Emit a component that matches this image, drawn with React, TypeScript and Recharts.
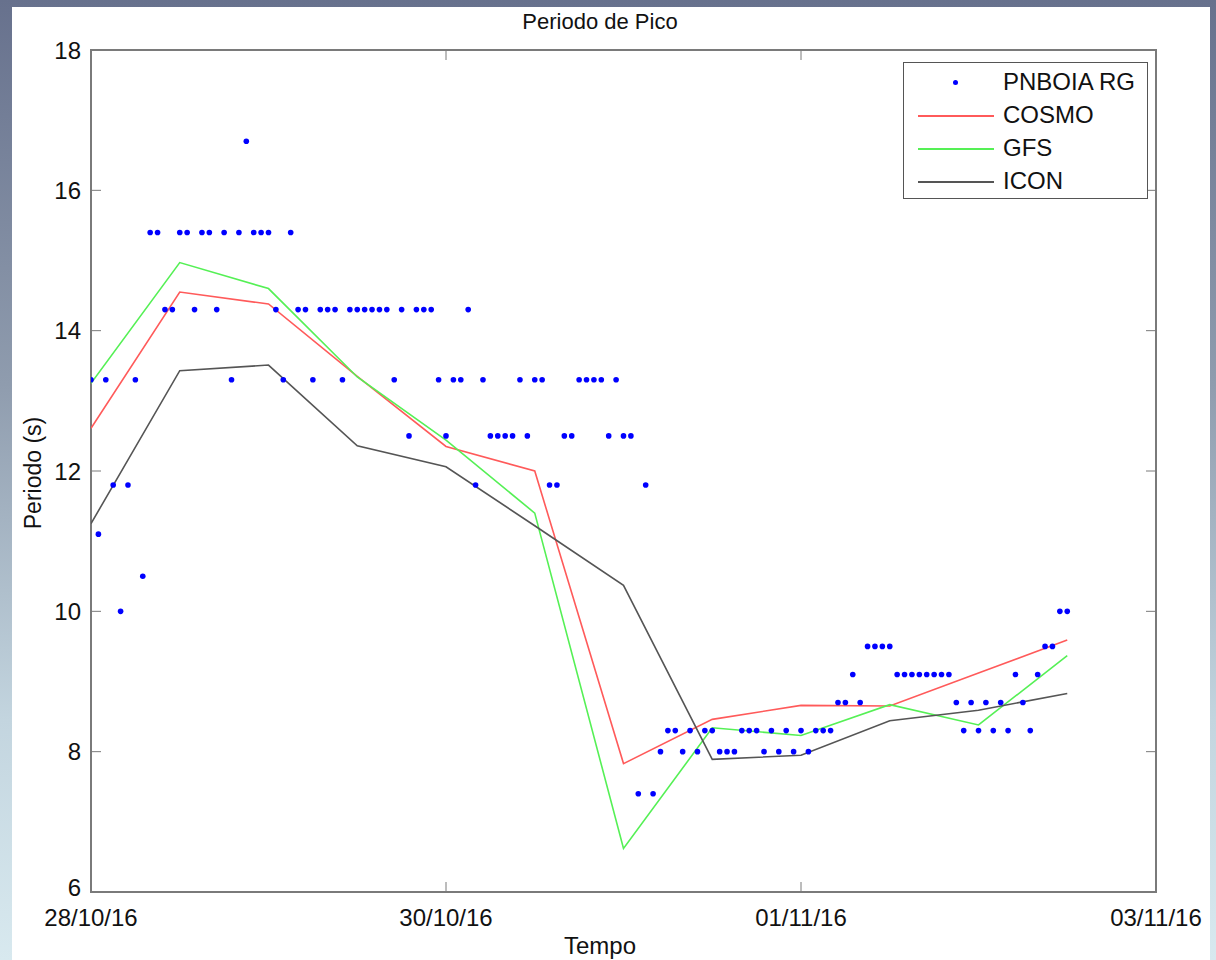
import React from "react";
import {
  ComposedChart,
  Line,
  Scatter,
  XAxis,
  YAxis,
  ReferenceArea,
} from "recharts";

// hourly buoy peak period, starting 28/10/16 00h
const buoyPeriod = [
  13.3, 11.1, 13.3, 11.8, 10.0, 11.8, 13.3, 10.5, 15.4, 15.4, 14.3, 14.3,
  15.4, 15.4, 14.3, 15.4, 15.4, 14.3, 15.4, 13.3, 15.4, 16.7, 15.4, 15.4,
  15.4, 14.3, 13.3, 15.4, 14.3, 14.3, 13.3, 14.3, 14.3, 14.3, 13.3, 14.3,
  14.3, 14.3, 14.3, 14.3, 14.3, 13.3, 14.3, 12.5, 14.3, 14.3, 14.3, 13.3,
  12.5, 13.3, 13.3, 14.3, 11.8, 13.3, 12.5, 12.5, 12.5, 12.5, 13.3, 12.5,
  13.3, 13.3, 11.8, 11.8, 12.5, 12.5, 13.3, 13.3, 13.3, 13.3, 12.5, 13.3,
  12.5, 12.5, 7.4, 11.8, 7.4, 8.0, 8.3, 8.3, 8.0, 8.3, 8.0, 8.3,
  8.3, 8.0, 8.0, 8.0, 8.3, 8.3, 8.3, 8.0, 8.3, 8.0, 8.3, 8.0,
  8.3, 8.0, 8.3, 8.3, 8.3, 8.7, 8.7, 9.1, 8.7, 9.5, 9.5, 9.5,
  9.5, 9.1, 9.1, 9.1, 9.1, 9.1, 9.1, 9.1, 9.1, 8.7, 8.3, 8.7,
  8.3, 8.7, 8.3, 8.7, 8.3, 9.1, 8.7, 8.3, 9.1, 9.5, 9.5, 10.0,
  10.0,
];

// model output every 12 h
const modelHours = [0, 12, 24, 36, 48, 60, 72, 84, 96, 108, 120, 132];
const cosmo = [12.61, 14.55, 14.38, 13.35, 12.35, 12.0, 7.83, 8.46, 8.66, 8.65, 9.12, 9.59];
const gfs = [13.25, 14.97, 14.6, 13.34, 12.44, 11.4, 6.62, 8.34, 8.23, 8.67, 8.38, 9.37];
const icon = [11.25, 13.43, 13.51, 12.36, 12.06, 11.22, 10.37, 7.89, 7.95, 8.44, 8.59, 8.83];

const xTicks = [0, 48, 96, 144];
const xTickLabels = ["28/10/16", "30/10/16", "01/11/16", "03/11/16"];
const yTicks = [6, 8, 10, 12, 14, 16, 18];

const seriesNames = ["PNBOIA RG", "COSMO", "GFS", "ICON"];
const colors = { buoy: "#0000ff", cosmo: "#ff5a5a", gfs: "#55f055", icon: "#555555" };

const buoyData = buoyPeriod.map((v, i) => ({ h: i, v }));
const toSeries = (vals: number[]) => vals.map((v, i) => ({ h: modelHours[i], v }));

const FONT = '"Liberation Sans", Arial, Helvetica, sans-serif';
const W = 1216;
const H = 960;
const PLOT_L = 91;
const PLOT_R = 1156;
const PLOT_T = 50;
const PLOT_B = 892;
const TICK = 10;
const AXIS_COLOR = "#7a7a7a";

const YTick = (props: any) => {
  const { y, payload } = props;
  // lowest label sits a little higher so it clears the date labels
  const ty = payload.value === yTicks[0] ? y - 5 : y;
  return (
    <g>
      <line x1={PLOT_L} x2={PLOT_L + TICK} y1={y} y2={y} stroke={AXIS_COLOR} strokeWidth={1} />
      <line x1={PLOT_R - TICK} x2={PLOT_R} y1={y} y2={y} stroke={AXIS_COLOR} strokeWidth={1} />
      <text x={81} y={ty} textAnchor="end" dominantBaseline="central" fontSize={24} fill="#111" fontFamily={FONT}>
        {payload.value}
      </text>
    </g>
  );
};

const XTick = (props: any) => {
  const { x, payload } = props;
  const idx = xTicks.indexOf(payload.value);
  return (
    <g>
      <line x1={x} x2={x} y1={PLOT_B - TICK} y2={PLOT_B} stroke={AXIS_COLOR} strokeWidth={1} />
      <line x1={x} x2={x} y1={PLOT_T} y2={PLOT_T + TICK} stroke={AXIS_COLOR} strokeWidth={1} />
      <text x={x} y={917} textAnchor="middle" dominantBaseline="central" fontSize={24} fill="#111" fontFamily={FONT}>
        {xTickLabels[idx]}
      </text>
    </g>
  );
};

const Dot = (props: any) => <circle cx={props.cx} cy={props.cy} r={2.8} fill={colors.buoy} />;

const LegendBox = () => {
  const lineColors = [colors.cosmo, colors.gfs, colors.icon];
  return (
    <div
      style={{
        position: "absolute",
        left: 903,
        top: 62,
        width: 245,
        height: 137,
        boxSizing: "border-box",
        border: "1.5px solid #555",
        background: "#fff",
        paddingTop: 3,
        fontFamily: FONT,
        fontSize: 24,
        color: "#111",
      }}
    >
      {seriesNames.map((name, i) => (
        <div key={name} style={{ position: "relative", height: 33 }}>
          {i === 0 ? (
            <div
              style={{
                position: "absolute",
                left: 49,
                top: 14,
                width: 5,
                height: 5,
                borderRadius: "50%",
                background: colors.buoy,
              }}
            />
          ) : (
            <div
              style={{
                position: "absolute",
                left: 14,
                top: 16,
                width: 76,
                height: 1.5,
                background: lineColors[i - 1],
              }}
            />
          )}
          <div style={{ position: "absolute", left: 99, top: 2, lineHeight: "28px" }}>{name}</div>
        </div>
      ))}
    </div>
  );
};

export default function App() {
  return (
    <div
      style={{
        position: "absolute",
        left: 0,
        top: 0,
        width: W,
        height: H,
        overflow: "hidden",
        background: "linear-gradient(to bottom, #67718d 0%, #8f9cae 40%, #c3d5df 75%, #d8e9ef 100%)",
      }}
    >
      <div style={{ position: "absolute", left: 12, top: 7, width: 1198, height: H - 7, background: "#fff" }} />
      <div
        style={{
          position: "absolute",
          left: 0,
          top: 10,
          width: W - 16,
          textAlign: "center",
          fontFamily: FONT,
          fontSize: 22,
          color: "#111",
          lineHeight: "24px",
        }}
      >
        Periodo de Pico
      </div>
      <div
        style={{
          position: "absolute",
          left: 0,
          top: 933,
          width: W - 16,
          textAlign: "center",
          fontFamily: FONT,
          fontSize: 24,
          color: "#111",
          lineHeight: "26px",
        }}
      >
        Tempo
      </div>
      <div
        style={{
          position: "absolute",
          left: 33,
          top: 473,
          transform: "translate(-50%, -50%) rotate(-90deg)",
          whiteSpace: "nowrap",
          fontFamily: FONT,
          fontSize: 23,
          color: "#111",
        }}
      >
        Periodo (s)
      </div>
      <div style={{ position: "absolute", left: 0, top: 0 }}>
        <ComposedChart
          width={W}
          height={H}
          margin={{ top: PLOT_T, right: W - PLOT_R, bottom: H - PLOT_B - 30, left: PLOT_L - 60 }}
        >
          <XAxis
            dataKey="h"
            type="number"
            domain={[0, 144]}
            ticks={xTicks}
            interval={0}
            height={30}
            axisLine={false}
            tickLine={false}
            tick={<XTick />}
            allowDataOverflow
          />
          <YAxis
            dataKey="v"
            type="number"
            domain={[6, 18]}
            ticks={yTicks}
            interval={0}
            width={60}
            axisLine={false}
            tickLine={false}
            tick={<YTick />}
            allowDataOverflow
          />
          <ReferenceArea
            x1={0}
            x2={144}
            y1={6}
            y2={18}
            fill="none"
            stroke={AXIS_COLOR}
            strokeWidth={2}
            ifOverflow="visible"
          />
          <Line
            data={toSeries(cosmo)}
            dataKey="v"
            stroke={colors.cosmo}
            strokeWidth={1.6}
            dot={false}
            activeDot={false}
            isAnimationActive={false}
            name="COSMO"
          />
          <Line
            data={toSeries(gfs)}
            dataKey="v"
            stroke={colors.gfs}
            strokeWidth={1.6}
            dot={false}
            activeDot={false}
            isAnimationActive={false}
            name="GFS"
          />
          <Line
            data={toSeries(icon)}
            dataKey="v"
            stroke={colors.icon}
            strokeWidth={1.6}
            dot={false}
            activeDot={false}
            isAnimationActive={false}
            name="ICON"
          />
          <Scatter data={buoyData} dataKey="v" shape={<Dot />} isAnimationActive={false} name="PNBOIA RG" />
        </ComposedChart>
      </div>
      <LegendBox />
    </div>
  );
}
